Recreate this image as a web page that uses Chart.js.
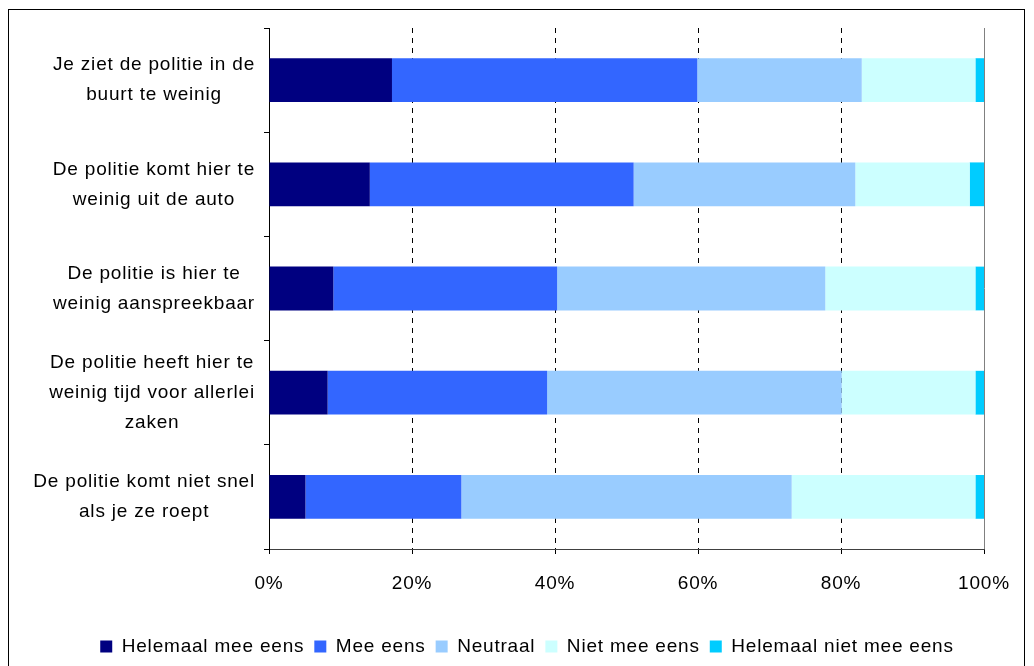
<!DOCTYPE html>
<html>
<head>
<meta charset="utf-8">
<script src="https://cdn.jsdelivr.net/npm/chart.js@4"></script>
<style>
  html, body { margin: 0; padding: 0; background: #fff; overflow: hidden; }
  #wrap { position: relative; width: 1034px; height: 666px; }
  #frame { position: absolute; left: 8px; top: 9px; width: 1017px; height: 700px; border: 1px solid #000; box-sizing: border-box; }
  canvas { position: absolute; left: 0; top: 0; }
</style>
</head>
<body>
<div id="wrap">
  <div id="frame"></div>
  <canvas id="chart" width="1034" height="666"></canvas>
</div>
<script>
// Statements (multi-line, as wrapped in the picture)
const statements = [
    ['Je ziet de politie in de', 'buurt te weinig'],
    ['De politie komt hier te', 'weinig uit de auto'],
    ['De politie is hier te', 'weinig aanspreekbaar'],
    ['De politie heeft hier te', 'weinig tijd voor allerlei', 'zaken'],
    ['De politie komt niet snel', 'als je ze roept']
];

const seriesNames = ['Helemaal mee eens', 'Mee eens', 'Neutraal', 'Niet mee eens', 'Helemaal niet mee eens'];
const seriesColors = ['#000080', '#3366FF', '#99CCFF', '#CCFFFF', '#00CCFF'];

// percentages per statement, one array per answer category
const helemaalMeeEens = [17.2, 14.1, 9.0, 8.2, 5.1];
const meeEens = [42.7, 36.9, 31.3, 30.7, 21.8];
const neutraal = [23.0, 31.0, 37.5, 41.2, 46.2];
const nietMeeEens = [15.9, 16.0, 21.0, 18.7, 25.7];
const helemaalNietMeeEens = [1.2, 2.0, 1.2, 1.2, 1.2];

const xTicks = [0, 20, 40, 60, 80, 100];

const seriesValues = [helemaalMeeEens, meeEens, neutraal, nietMeeEens, helemaalNietMeeEens];

const FONT_FAMILY = '"Liberation Sans", Arial, sans-serif';
const FONT_SIZE = 19;
const SPACING = '0.8px';
const font = { family: FONT_FAMILY, size: FONT_SIZE };

// Excel-ish wide text: letter spacing on the whole canvas
const spacing = {
    id: 'spacing',
    beforeLayout(chart) { chart.ctx.letterSpacing = SPACING; },
    afterLayout(chart) {
        // centre the legend on the whole picture, not only on the plot side
        chart.legend.left += 35;
        chart.legend.right += 35;
    },
    beforeDraw(chart) { chart.ctx.letterSpacing = SPACING; }
};

// category labels: block right-aligned against the axis, lines centred inside it
const catLabels = {
    id: 'catLabels',
    afterDraw(chart) {
        const { ctx } = chart;
        const y = chart.scales.y;
        const right = y.right - 14;
        const lineH = 30;
        ctx.save();
        ctx.letterSpacing = SPACING;
        ctx.font = FONT_SIZE + 'px ' + FONT_FAMILY;
        ctx.fillStyle = '#000';
        ctx.textAlign = 'center';
        ctx.textBaseline = 'middle';
        statements.forEach((lines, i) => {
            const w = Math.max(...lines.map(l => ctx.measureText(l).width));
            const cx = right - w / 2;
            const cy = y.getPixelForTick(i);
            lines.forEach((l, k) => {
                ctx.fillText(l, cx, cy + (k - (lines.length - 1) / 2) * lineH);
            });
        });
        ctx.restore();
    }
};

// gray frame line on the right edge of the plot
const rightEdge = {
    id: 'rightEdge',
    afterDraw(chart) {
        const { ctx, chartArea: a } = chart;
        ctx.save();
        ctx.strokeStyle = '#808080';
        ctx.lineWidth = 1;
        ctx.beginPath();
        ctx.moveTo(a.right + 0.5, a.top);
        ctx.lineTo(a.right + 0.5, a.bottom);
        ctx.stroke();
        ctx.restore();
    }
};

new Chart(document.getElementById('chart'), {
    type: 'bar',
    data: {
        labels: statements.map(l => l.join(' ')),
        datasets: seriesNames.map((name, i) => ({
            label: name,
            data: seriesValues[i],
            backgroundColor: seriesColors[i],
            borderWidth: 0,
            barPercentage: 0.42,
            categoryPercentage: 1
        }))
    },
    options: {
        indexAxis: 'y',
        responsive: false,
        animation: false,
        devicePixelRatio: 1,
        layout: { padding: { top: 28, right: 50, left: 0, bottom: 0 } },
        plugins: {
            legend: {
                position: 'bottom',
                labels: { color: '#000', font: font, boxWidth: 12, boxHeight: 12, padding: 10 }
            },
            tooltip: { enabled: false }
        },
        scales: {
            x: {
                stacked: true,
                min: 0,
                max: 100,
                afterBuildTicks: s => { s.ticks = xTicks.map(v => ({ value: v })); },
                afterFit: s => { s.height = 78; },
                grid: {
                    color: c => (c.tick && (c.tick.value === 0 || c.tick.value === 100)) ? 'rgba(0,0,0,0)' : '#000',
                    tickColor: '#000',
                    tickLength: 5,
                    lineWidth: 1
                },
                border: { color: '#404040', dash: [5, 5] },
                ticks: { color: '#000', font: font, padding: 18, maxRotation: 0, callback: v => v + '%' }
            },
            y: {
                stacked: true,
                afterFit: s => { s.width = 269; },
                grid: { drawOnChartArea: false, offset: true, tickLength: 5, tickColor: '#000' },
                border: { color: '#000' },
                ticks: { display: false }
            }
        }
    },
    plugins: [spacing, catLabels, rightEdge]
});
</script>
</body>
</html>
